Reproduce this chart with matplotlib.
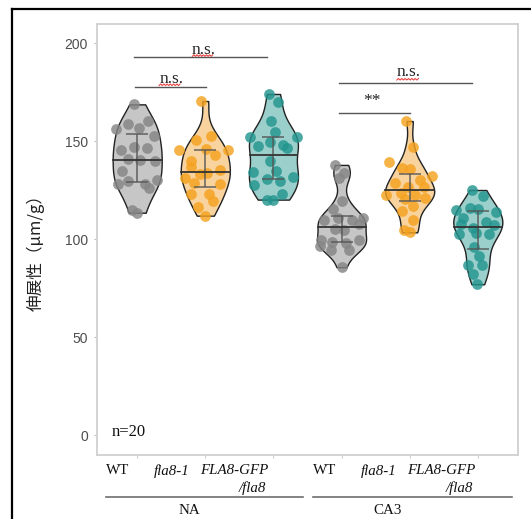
import matplotlib
matplotlib.use("Agg")
import matplotlib.pyplot as plt
import numpy as np
from matplotlib import mlab, cbook
from matplotlib.lines import Line2D

# values (um/g), 20 plants per line
na_wt = [168.7, 156.1, 158.5, 156.8, 160.2, 152.7, 145.4, 146.8, 146.3, 140.8,
         140.3, 134.7, 139.8, 127.9, 130.1, 127.9, 125.9, 114.8, 113.4, 129.6]
na_fla = [170.4, 152.7, 150.5, 145.4, 145.4, 146.0, 143.0, 136.9, 135.2, 131.3,
          133.5, 127.9, 122.8, 122.8, 119.4, 116.5, 111.9, 128.5, 133.0, 140.0]
na_gfp = [174.0, 169.9, 160.1, 154.6, 151.9, 151.9, 149.5, 147.3, 148.1, 146.4,
          139.6, 134.2, 134.9, 131.5, 130.8, 129.7, 123.0, 120.1, 120.1, 127.7]
ca_wt = [137.8, 133.8, 131.0, 119.5, 115.2, 109.7, 110.6, 109.7, 110.6, 105.0,
         104.6, 99.5, 98.6, 98.1, 99.5, 96.4, 94.4, 94.4, 85.6, 107.7]
ca_fla = [160.2, 147.1, 139.5, 136.1, 135.7, 132.3, 128.4, 126.7, 126.7, 122.4,
          123.3, 122.4, 121.1, 120.4, 117.0, 114.3, 109.7, 104.6, 103.4, 130.1]
ca_gfp = [125.0, 122.1, 114.8, 115.7, 115.3, 113.9, 107.5, 108.5, 107.1, 105.5,
          102.4, 102.4, 102.9, 96.1, 91.5, 86.7, 86.7, 82.0, 76.9, 110.6]

# horizontal jitter of each dot, as seen in the picture
na_wt_jit = [-0.05, -0.31, -0.14, 0.02, 0.16, 0.25, -0.24, -0.04, 0.14, -0.14,
             0.04, -0.22, 0.26, -0.28, 0.29, 0.11, 0.17, -0.08, 0.0, -0.13]
na_fla_jit = [-0.06, 0.08, -0.13, -0.39, 0.34, 0.01, 0.14, -0.21, 0.21, -0.30,
              0.03, 0.21, -0.21, 0.05, 0.11, -0.11, -0.01, -0.16, -0.08, -0.21]
na_gfp_jit = [-0.07, 0.06, -0.04, 0.03, -0.35, 0.34, -0.05, -0.22, 0.14, 0.20,
              -0.05, -0.30, 0.04, 0.29, -0.09, 0.10, 0.13, -0.10, 0.0, -0.29]
ca_wt_jit = [-0.09, 0.04, -0.04, 0.0, -0.13, -0.26, -0.05, 0.16, 0.31, -0.10,
             0.04, -0.30, -0.14, 0.07, 0.25, -0.32, -0.15, 0.11, 0.0, 0.26]
ca_fla_jit = [-0.05, 0.05, -0.31, -0.11, 0.01, 0.33, -0.21, -0.03, 0.21, -0.35,
              -0.13, 0.08, 0.23, -0.07, 0.05, -0.12, 0.05, -0.08, 0.01, 0.15]
ca_gfp_jit = [-0.08, 0.07, -0.32, -0.12, 0.01, 0.26, -0.24, 0.12, 0.24, -0.07,
              -0.28, 0.17, -0.02, -0.05, 0.02, -0.15, 0.06, -0.07, -0.01, -0.22]

genotypes = ["WT", "fla8-1", "FLA8-GFP", "/fla8"]
conditions = ["NA", "CA3"]
dot_colors = ["#858585", "#F5A21E", "#23958F"]
fill_colors = ["#C6C6C6", "#F8D39D", "#9BCFCB"]

data = [na_wt, na_fla, na_gfp, ca_wt, ca_fla, ca_gfp]
jitter = [na_wt_jit, na_fla_jit, na_gfp_jit, ca_wt_jit, ca_fla_jit, ca_gfp_jit]
positions = [1, 2, 3, 4, 5, 6]
VW = 0.72

W, H = 531, 519
fx = lambda px: px / W
fy = lambda py: 1 - py / H

fig = plt.figure(figsize=(W / 100, H / 100), dpi=100)
ax = fig.add_axes([fx(97), fy(455), fx(518) - fx(97), fy(24) - fy(455)])


def nrd0_factor(kde):
    # R's bw.nrd0 expressed as a factor of the sample sd
    x = kde.dataset.ravel()
    sd = x.std(ddof=1)
    iqr = np.subtract(*np.percentile(x, [75, 25]))
    h = 0.9 * min(sd, iqr / 1.34) * len(x) ** -0.2
    return h / sd


def kde_method(X, coords):
    return mlab.GaussianKDE(X, nrd0_factor).evaluate(coords)


stats = cbook.violin_stats(data, kde_method, points=300)
parts = ax.violin(stats, positions=positions, widths=VW,
                  showmeans=False, showextrema=False, showmedians=False)
for i, body in enumerate(parts["bodies"]):
    body.set_facecolor(fill_colors[i % 3])
    body.set_edgecolor("#222222")
    body.set_linewidth(1.0)
    body.set_alpha(1)
    body.set_zorder(1)

for i, (d, jit) in enumerate(zip(data, jitter)):
    p = positions[i]
    d = np.asarray(d)
    ax.scatter(p + np.asarray(jit), d, s=60, color=dot_colors[i % 3],
               alpha=0.82, linewidths=0, zorder=2)
    med = np.median(d)
    q1, q3 = np.percentile(d, [25, 75])
    st = stats[i]
    half = np.interp(med, st["coords"], st["vals"]) / st["vals"].max() * VW / 2
    ax.plot([p - half, p + half], [med, med], color="#333333", lw=1.3, zorder=4)
    ax.errorbar(p, med, yerr=[[med - q1], [q3 - med]], fmt="none",
                ecolor="#555555", elinewidth=1.1, capsize=8, capthick=1.1,
                alpha=0.9, zorder=3)

# significance brackets
sig = [(0.95, 2.91, 192.7, 1.97, 194.4, "n.s.", (1.81, 2.11, 193.6)),
       (0.97, 2.01, 177.7, 1.50, 179.7, "n.s.", (1.32, 1.63, 178.7)),
       (3.96, 5.92, 179.7, 4.99, 183.2, "n.s.", (4.81, 5.13, 181.5)),
       (3.96, 5.00, 164.4, 4.44, 168.5, "**", None)]
for x0, x1, y, tx, ty, lab, sq in sig:
    ax.plot([x0, x1], [y, y], color="#555555", lw=1.0, zorder=3)
    ax.text(tx, ty, lab, ha="center", va="baseline", fontsize=12.5,
            family="Liberation Serif", color="#222222")
    if sq:
        zx = np.linspace(sq[0], sq[1], 14)
        zy = sq[2] + np.where(np.arange(14) % 2 == 0, -0.4, 0.4)
        ax.plot(zx, zy, color="#E83030", lw=0.7, zorder=3)

fig.text(fx(112), fy(432), "n=20", ha="left", va="center", fontsize=12,
         family="Liberation Serif", color="#111111")

ax.set_xlim(0.41, 6.59)
ax.set_ylim(-10.2, 209.7)
ax.set_yticks([0, 50, 100, 150, 200])
ax.set_xticks(positions)
ax.set_xticklabels([])
for s in ax.spines.values():
    s.set_color("#D0D0D0")
    s.set_linewidth(1.3)
ax.tick_params(axis="y", length=2.5, color="#BDBDBD", labelcolor="#4D4D4D",
               labelsize=10, pad=4)
ax.tick_params(axis="x", length=2.5, color="#D0D0D0")
for t in ax.get_yticklabels():
    t.set_family("Liberation Sans")

fig.text(fx(36), fy(249), "伸展性（μm/g）", rotation=90, ha="center", va="center",
         fontsize=12, family=["Noto Sans CJK JP", "DejaVu Sans"], color="#222222")

# genotype labels under each condition
serif = dict(fontsize=10.8, family="Liberation Serif", color="#111111", va="center")
for off in (0, 207):
    fig.text(fx(117.5 + off), fy(471), genotypes[0], ha="center", **serif)
    fig.text(fx(171.5 + off), fy(471), genotypes[1], ha="center", style="italic", **serif)
    fig.text(fx(234 + off), fy(471), genotypes[2], ha="center", style="italic", **serif)
    fig.text(fx(266 + off), fy(488), genotypes[3], ha="right", style="italic", **serif)

for (x0, x1), name, cx in zip([(106, 303), (313, 512)], conditions, [189, 388]):
    fig.add_artist(Line2D([fx(x0), fx(x1)], [fy(496.5)] * 2, color="#6E6E6E",
                          lw=1.2, transform=fig.transFigure))
    fig.text(fx(cx), fy(511), name, ha="center", **serif)

# black frame of the original slide
fig.add_artist(Line2D([fx(11.5), fx(11.5)], [0, fy(8.5)], color="black", lw=1.6,
                      transform=fig.transFigure))
fig.add_artist(Line2D([fx(11.5), 1], [fy(8.5), fy(8.5)], color="black", lw=1.6,
                      transform=fig.transFigure))

fig.savefig("out.png", dpi=100)
